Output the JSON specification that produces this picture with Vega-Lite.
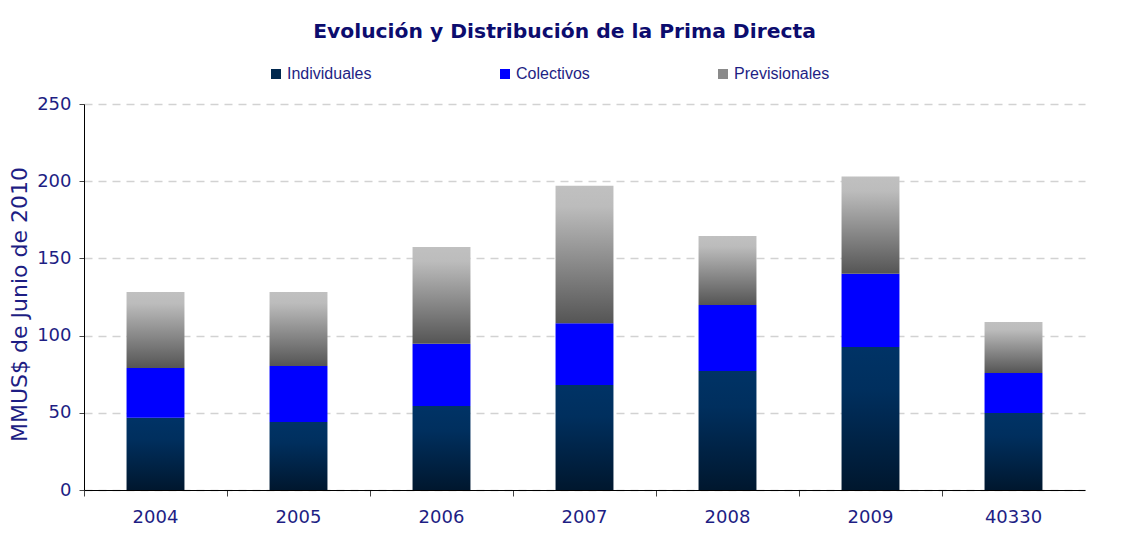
{
  "$schema": "https://vega.github.io/schema/vega-lite/v6.json",
  "width": 1001,
  "height": 386,
  "autosize": "none",
  "padding": {"left": 84, "top": 104, "right": 61, "bottom": 66},
  "background": "white",
  "title": {
    "text": "Evolución y Distribución de la Prima Directa",
    "font": "DejaVu Sans",
    "fontSize": 20.3,
    "fontWeight": "bold",
    "color": "#0c0c6e",
    "anchor": "middle",
    "dx": -20,
    "offset": 24
  },
  "data": {
    "values": [
      {"year": "2004", "serie": "Individuales", "value": 46.8},
      {"year": "2004", "serie": "Colectivos", "value": 32.2},
      {"year": "2004", "serie": "Previsionales", "value": 49.2},
      {"year": "2005", "serie": "Individuales", "value": 44.0},
      {"year": "2005", "serie": "Colectivos", "value": 36.3},
      {"year": "2005", "serie": "Previsionales", "value": 47.9},
      {"year": "2006", "serie": "Individuales", "value": 54.4},
      {"year": "2006", "serie": "Colectivos", "value": 40.4},
      {"year": "2006", "serie": "Previsionales", "value": 62.6},
      {"year": "2007", "serie": "Individuales", "value": 68.0},
      {"year": "2007", "serie": "Colectivos", "value": 40.0},
      {"year": "2007", "serie": "Previsionales", "value": 89.0},
      {"year": "2008", "serie": "Individuales", "value": 77.0},
      {"year": "2008", "serie": "Colectivos", "value": 42.8},
      {"year": "2008", "serie": "Previsionales", "value": 44.7},
      {"year": "2009", "serie": "Individuales", "value": 92.6},
      {"year": "2009", "serie": "Colectivos", "value": 47.4},
      {"year": "2009", "serie": "Previsionales", "value": 63.0},
      {"year": "40330", "serie": "Individuales", "value": 49.9},
      {"year": "40330", "serie": "Colectivos", "value": 25.9},
      {"year": "40330", "serie": "Previsionales", "value": 33.0}
    ]
  },
  "transform": [
    {"calculate": "indexof(['Individuales','Colectivos','Previsionales'], datum.serie)", "as": "k"},
    {"stack": "value", "groupby": ["year"], "sort": [{"field": "k", "order": "ascending"}], "as": ["v0", "v1"]}
  ],
  "encoding": {
    "x": {
      "field": "year",
      "type": "nominal",
      "sort": null,
      "scale": {"paddingInner": 0, "paddingOuter": 0},
      "axis": {
        "title": null,
        "labelAngle": 0,
        "bandPosition": 0,
        "labelFont": "DejaVu Sans",
        "labelFontSize": 18,
        "labelColor": "#1e1e84",
        "labelPadding": 12,
        "tickSize": 6,
        "tickColor": "#444444",
        "domainColor": "#000000",
        "domainWidth": 1
      }
    },
    "y": {
      "field": "v1",
      "type": "quantitative",
      "scale": {"domain": [0, 250], "nice": false},
      "axis": {
        "title": "MMUS$ de Junio de 2010",
        "titleFont": "DejaVu Sans",
        "titleFontSize": 22,
        "titleFontWeight": "normal",
        "titleColor": "#1e1e84",
        "titlePadding": 5,
        "titleY": 200,
        "values": [0, 50, 100, 150, 200, 250],
        "labelFont": "DejaVu Sans",
        "labelFontSize": 18,
        "labelColor": "#1e1e84",
        "labelPadding": 8,
        "tickSize": 5,
        "tickColor": "#444444",
        "domainColor": "#000000",
        "domainWidth": 1,
        "grid": true,
        "gridColor": "#d2d2d2",
        "gridDash": [8, 6],
        "gridWidth": 1.5
      }
    },
    "y2": {"field": "v0"}
  },
  "layer": [
    {
      "transform": [{"filter": "datum.serie === 'Individuales'"}],
      "mark": {"type": "bar", "width": {"band": 0.405},
        "color": {"gradient": "linear", "x1": 0, "y1": 0, "x2": 0, "y2": 1, "stops": [{"offset": 0, "color": "#003366"}, {"offset": 0.3, "color": "#002f5e"}, {"offset": 1, "color": "#00172e"}]}}
    },
    {
      "transform": [{"filter": "datum.serie === 'Colectivos'"}],
      "mark": {"type": "bar", "width": {"band": 0.405}, "color": "#0000ff"}
    },
    {
      "transform": [{"filter": "datum.serie === 'Previsionales'"}],
      "mark": {"type": "bar", "width": {"band": 0.405},
        "color": {"gradient": "linear", "x1": 0, "y1": 0, "x2": 0, "y2": 1, "stops": [{"offset": 0, "color": "#c0c0c0"}, {"offset": 0.15, "color": "#bcbcbc"}, {"offset": 1, "color": "#555555"}]}}
    },
    {
      "mark": {"type": "bar", "width": {"band": 0.405}},
      "encoding": {
        "y": {"datum": 0, "type": "quantitative"},
        "y2": {"datum": 0},
        "color": {
          "field": "serie",
          "type": "nominal",
          "scale": {
            "domain": ["Individuales", "Colectivos", "Previsionales"],
            "range": ["#00284f", "#0000ff", "#8a8a8a"]
          },
          "legend": {
            "title": null,
            "orient": "none",
            "direction": "horizontal",
            "legendX": 184,
            "legendY": -38,
            "symbolType": "square",
            "symbolSize": 100,
            "symbolStrokeWidth": 0,
            "labelFont": "Liberation Sans",
            "labelFontSize": 16,
            "labelColor": "#1e1e84",
            "labelOffset": 3,
            "columnPadding": 125,
            "padding": 0
          }
        }
      }
    }
  ],
  "config": {
    "view": {"stroke": null}
  }
}
